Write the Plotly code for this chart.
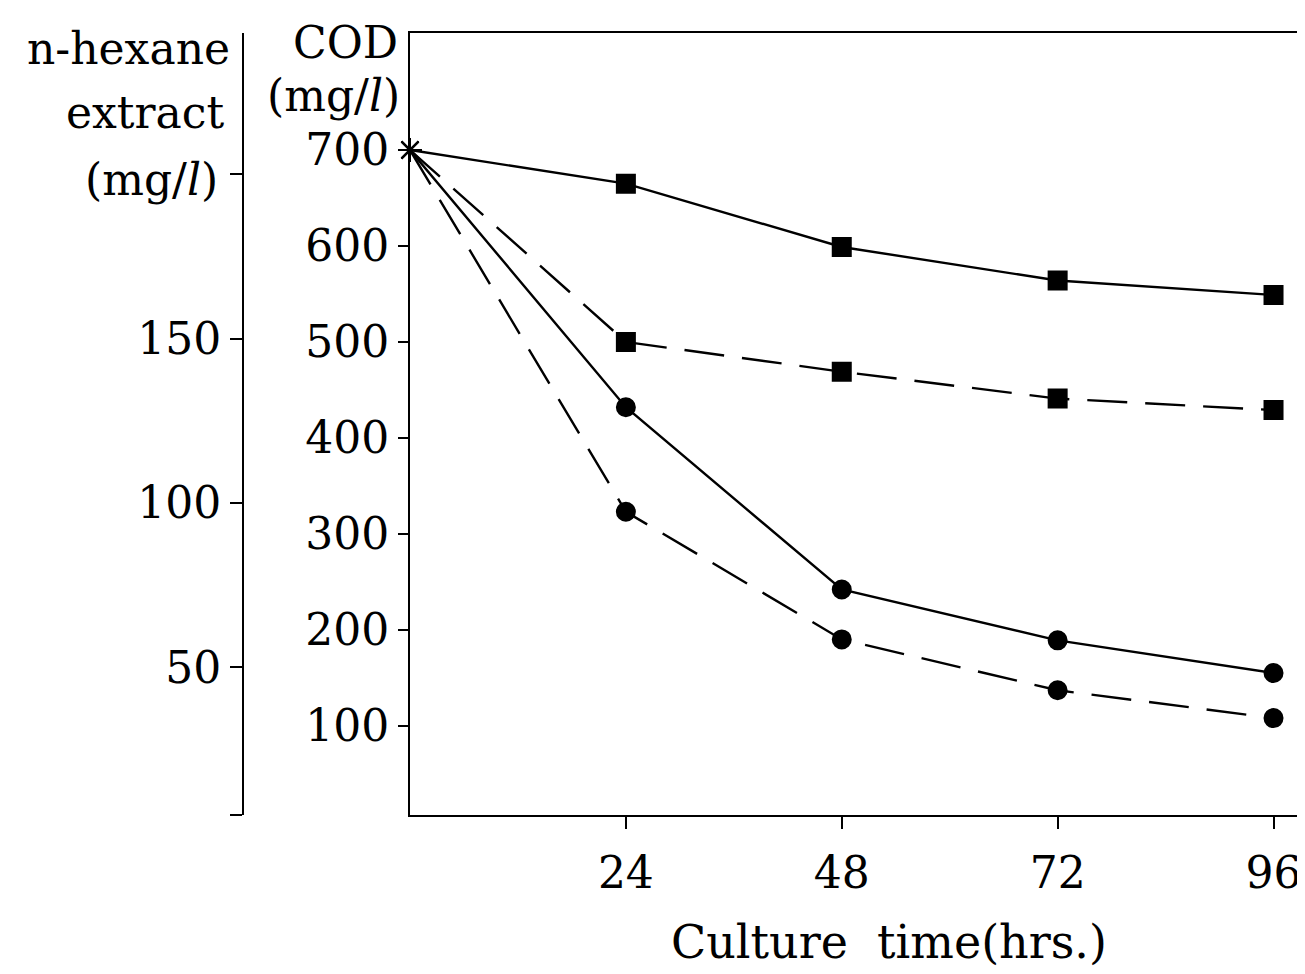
import plotly.graph_objects as go

# ---- data ----
time_hrs = [0, 24, 48, 72, 96]
series_a = [700, 665, 599, 564, 549]   # solid, squares
series_b = [700, 500, 469, 441, 429]   # dashed, squares
series_c = [700, 432, 242, 189, 155]   # solid, circles
series_d = [700, 323, 190, 137, 108]   # dashed, circles

x_ticks = [24, 48, 72, 96]
cod_ticks = [100, 200, 300, 400, 500, 600, 700]
hex_ticks = [5, 50, 100, 150, 200]
hex_labels = ["", "50", "100", "150", ""]

FONT = "DejaVu Serif"
OFF = 8                      # page body margin of the html page
PAGE_W, PAGE_H = 1305, 974
W, H = PAGE_W - OFF, PAGE_H - OFF
L_PX, T_PX, B_PX = 410, 33, 815   # plot edges in page pixels

def px(x):
    return (x - OFF) / W

def py(y):
    return (B_PX - y) / (B_PX - T_PX)

fig = go.Figure()

def add_series(vals, dash, symbol):
    fig.add_trace(go.Scatter(
        x=time_hrs, y=vals, mode="lines+markers",
        line=dict(color="black", width=2.4, dash=dash),
        marker=dict(color="black", opacity=1,
                    symbol=["asterisk-open"] + [symbol] * 4,
                    size=[20] + [18] * 4,
                    line=dict(color="black", width=2)),
        showlegend=False, hoverinfo="skip", cliponaxis=False))

add_series(series_a, "solid", "square")
add_series(series_b, "40px,18px", "square")
add_series(series_c, "solid", "circle")
add_series(series_d, "40px,18px", "circle")

# empty trace to attach the n-hexane axis
fig.add_trace(go.Scatter(x=[], y=[], yaxis="y2", showlegend=False))

tick_font = dict(family=FONT, size=44, color="black")

fig.update_layout(
    width=W, height=H,
    margin=dict(l=0, r=0, t=T_PX - OFF, b=PAGE_H - B_PX),
    paper_bgcolor="white", plot_bgcolor="white",
    font=dict(family=FONT, color="black"),
    xaxis=dict(domain=[px(L_PX), 1], range=[0, 99.5],
               tickvals=x_ticks, ticks="outside", ticklen=12, tickwidth=2,
               tickcolor="black", showline=True, linecolor="black", linewidth=2,
               mirror=True, showgrid=False, zeroline=False, tickfont=tick_font,
               ticklabelstandoff=6),
    yaxis=dict(range=[7, 822], tickvals=cod_ticks, ticks="outside", ticklen=10,
               tickwidth=2, tickcolor="black", showline=True, linecolor="black",
               linewidth=2, showgrid=False, zeroline=False, tickfont=tick_font),
    yaxis2=dict(overlaying="y", anchor="free", position=px(243), side="left",
                range=[5, 243], tickvals=hex_ticks, ticktext=hex_labels,
                ticks="outside", ticklen=12, tickwidth=2, tickcolor="black",
                showline=True, linecolor="black", linewidth=2, showgrid=False,
                zeroline=False, tickfont=tick_font),
)

ann_font = dict(family=FONT, size=44, color="black")
labels = [
    ("n-hexane", 232, 48),
    ("extract", 226, 112),
    ("(mg/<i>l</i>)", 220, 180),
    ("COD", 400, 42),
    ("(mg/<i>l</i>)", 402, 95),
]
for text, x, y in labels:
    fig.add_annotation(text=text, xref="paper", yref="paper", x=px(x), y=py(y),
                       xanchor="right", yanchor="middle", showarrow=False,
                       font=ann_font)

fig.add_annotation(text="Culture\u00a0 time(hrs.)", xref="paper", yref="paper",
                   x=px(889), y=py(942), xanchor="center", yanchor="middle",
                   showarrow=False, font=dict(family=FONT, size=46, color="black"))

fig.write_html("out.html")
